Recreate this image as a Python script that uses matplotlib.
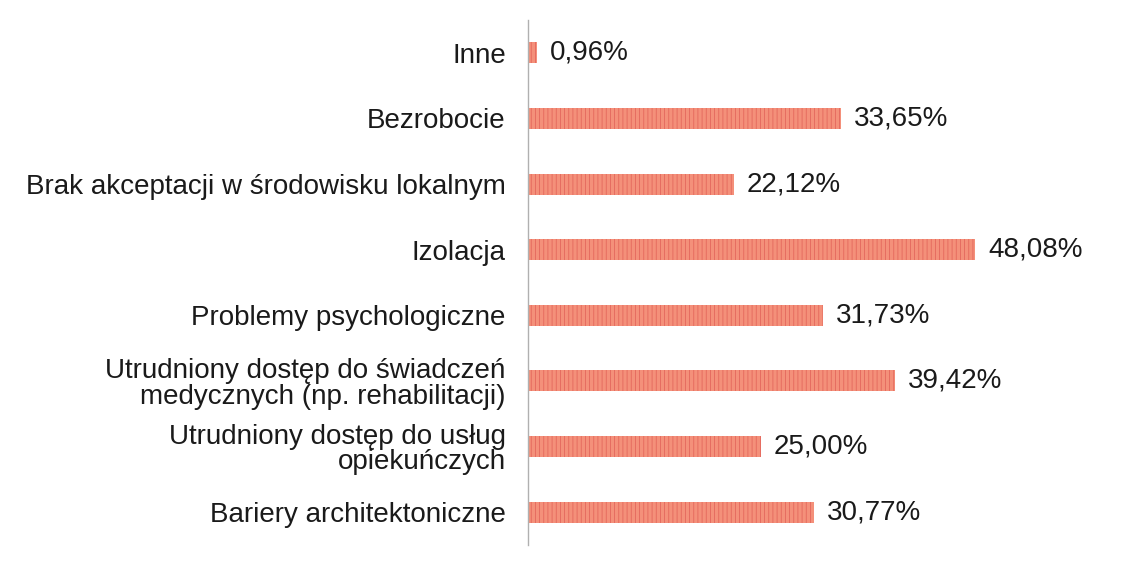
import matplotlib
matplotlib.use("Agg")
import matplotlib.pyplot as plt

plt.rcParams['font.family'] = ['Liberation Sans', 'DejaVu Sans']
plt.rcParams['hatch.linewidth'] = 0.6

categories = [
    "Bariery architektoniczne",
    "Utrudniony dostęp do usług\nopiekuńczych",
    "Utrudniony dostęp do świadczeń\nmedycznych (np. rehabilitacji)",
    "Problemy psychologiczne",
    "Izolacja",
    "Brak akceptacji w środowisku lokalnym",
    "Bezrobocie",
    "Inne",
]
values = [30.77, 25.00, 39.42, 31.73, 48.08, 22.12, 33.65, 0.96]
value_labels = ["30,77%", "25,00%", "39,42%", "31,73%", "48,08%", "22,12%", "33,65%", "0,96%"]

fig = plt.figure(figsize=(11.48, 5.73), dpi=100)
ax = fig.add_axes([0.46, 0.049, 0.486, 0.916])

y = range(len(categories))
ax.barh(list(y), values, height=0.32, color='#F4907A', edgecolor='#E4675C',
        hatch='||||', linewidth=0)

for yi, v, lab in zip(y, values, value_labels):
    ax.text(v + 1.4, yi, lab, va='center', ha='left', fontsize=20, color='#1a1a1a')

ax.set_yticks(list(y))
ax.set_yticklabels(categories, fontsize=20, color='#1a1a1a', linespacing=0.98)
ax.set_ylim(-0.5, len(categories) - 0.5)
ax.set_xlim(0, 60)
ax.tick_params(axis='y', length=0, pad=16)
ax.set_xticks([])
for s in ['top', 'right', 'bottom']:
    ax.spines[s].set_visible(False)
ax.spines['left'].set_color('#b0b0b0')
ax.spines['left'].set_linewidth(1)

fig.savefig("out.png", dpi=100)
